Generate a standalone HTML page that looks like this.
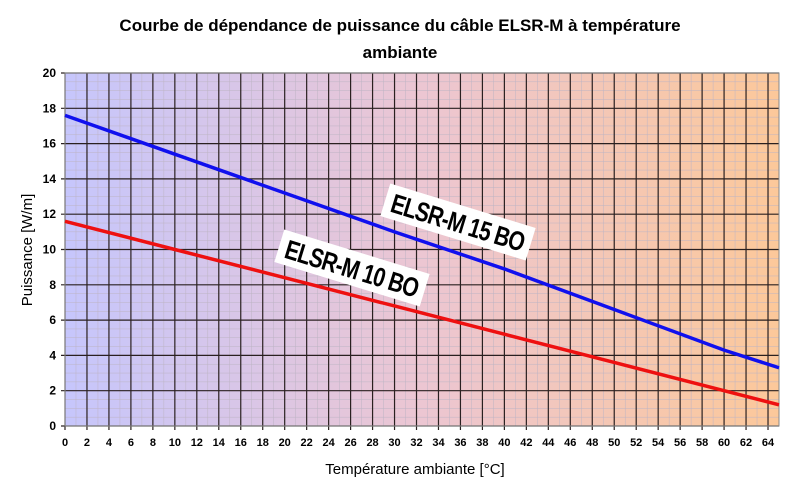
<!DOCTYPE html>
<html><head><meta charset="utf-8"><style>
body{margin:0;background:#fff;width:800px;height:497px;overflow:hidden;font-family:"Liberation Sans",sans-serif}
</style></head><body>
<svg id="c" width="800" height="497">
<defs><linearGradient id="bg" x1="0" x2="1" y1="0" y2="0">
<stop offset="0" stop-color="#c6c6fc"/><stop offset="0.5" stop-color="#ecc6d2"/><stop offset="1" stop-color="#fcc89a"/></linearGradient></defs>
<text x="400" y="31" text-anchor="middle" font-size="17" font-weight="bold">Courbe de dépendance de puissance du câble ELSR-M à température</text>
<text x="400" y="58" text-anchor="middle" font-size="17" font-weight="bold">ambiante</text>
<rect x="65" y="73" width="714" height="353" fill="url(#bg)"/>
<g id="grid"></g><g id="series"></g><g id="labels"></g>
<text x="415" y="474" text-anchor="middle" font-size="15">Température ambiante  [°C]</text>
<text transform="translate(32,250) rotate(-90)" text-anchor="middle" font-size="15">Puissance  [W/m]</text>
<g transform="translate(458,222) rotate(17)"><rect x="-76" y="-17" width="152" height="34" fill="#fff"/><text x="0" y="10" text-anchor="middle" font-size="27" font-weight="bold" transform="scale(0.78,1)" letter-spacing="-1">ELSR-M 15 BO</text></g>
<g transform="translate(352,268) rotate(17)"><rect x="-76" y="-17" width="152" height="34" fill="#fff"/><text x="0" y="10" text-anchor="middle" font-size="27" font-weight="bold" transform="scale(0.78,1)" letter-spacing="-1">ELSR-M 10 BO</text></g>
</svg>
<script>
const xVals=[0,10,20,30,40,50,60,65];
const blue15=[17.6,15.4,13.2,11.0,8.9,6.6,4.3,3.3];
const red10=[11.6,10.0,8.4,6.8,5.2,3.6,2.0,1.2];
const xTicks=[0,2,4,6,8,10,12,14,16,18,20,22,24,26,28,30,32,34,36,38,40,42,44,46,48,50,52,54,56,58,60,62,64];
const yTicks=[0,2,4,6,8,10,12,14,16,18,20];
const NS="http://www.w3.org/2000/svg";
const X=v=>65+v*(714/65), Y=v=>426-v*(353/20);
const g=document.getElementById('grid'),s=document.getElementById('series');
function mk(tag,at,p){const e=document.createElementNS(NS,tag);for(const k in at)e.setAttribute(k,at[k]);p.appendChild(e);return e;}
for(let v=1;v<65;v+=2){const l=mk('line',{x1:X(v),x2:X(v),y1:73,y2:426,stroke:'#bdb4c4','stroke-width':0.5},g);

}
for(let v=0.5;v<20;v+=0.5){if(v%2===0)continue;const l=mk('line',{x1:65,x2:779,y1:Y(v),y2:Y(v),stroke:'#bdb4c4','stroke-width':0.5},g);

}
xTicks.forEach(v=>{const l=mk('line',{x1:X(v),x2:X(v),y1:73,y2:430,stroke:'#2a2020','stroke-width':1.2},g);


const t=mk('text',{x:X(v),y:446,'text-anchor':'middle','font-size':11,'font-weight':'bold'},g);t.textContent=v;

});
yTicks.forEach(v=>{const l=mk('line',{x1:61,x2:779,y1:Y(v),y2:Y(v),stroke:'#2a2020','stroke-width':1.2},g);


const t=mk('text',{x:56,y:Y(v)+4,'text-anchor':'end','font-size':12,'font-weight':'bold'},g);t.textContent=v;

});
mk('rect',{x:65,y:73,width:714,height:353,fill:'none',stroke:'#888','stroke-width':1},g);
[[blue15,'#1010ee','line-elsr-m-15-bo'],[red10,'#ee1010','line-elsr-m-10-bo']].forEach(([d,c,n])=>{
const p=mk('polyline',{points:xVals.map((x,i)=>X(x)+','+Y(d[i])).join(' '),fill:'none',stroke:c,'stroke-width':3.5},s);

});
</script>
</body></html>
